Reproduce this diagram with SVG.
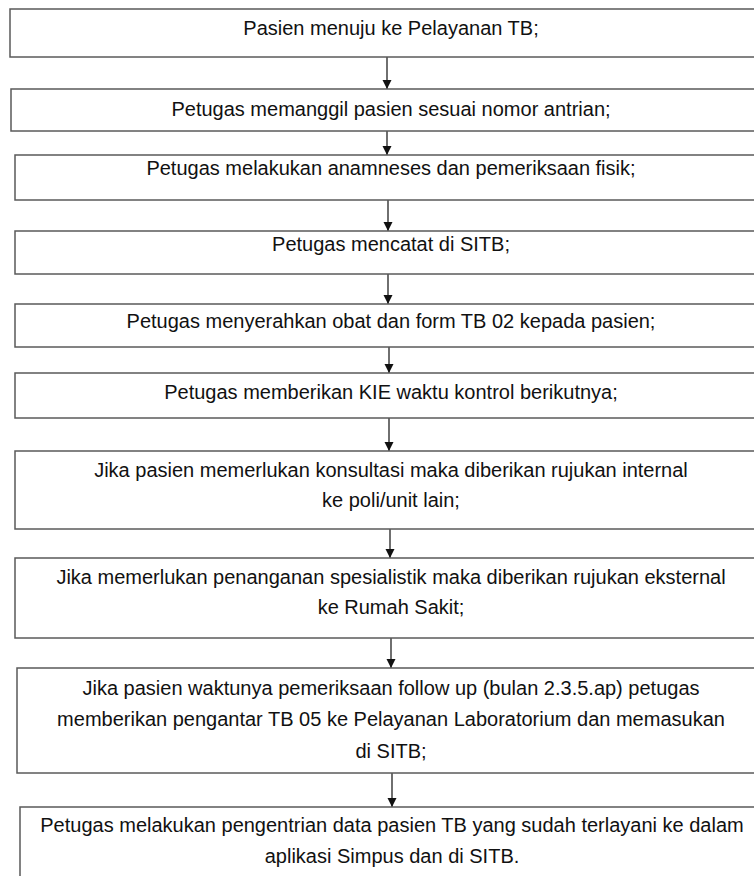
<svg xmlns="http://www.w3.org/2000/svg" width="754" height="876" viewBox="0 0 754 876">
<defs>
<style>
.box{fill:#ffffff;stroke:#5a5a5a;stroke-width:1.5}
.t{font-family:"Liberation Sans",Arial,sans-serif;font-size:20px;fill:#111;text-anchor:middle}
.c{stroke:#222;stroke-width:1.3;fill:none}
</style>
<marker id="ah" markerUnits="userSpaceOnUse" markerWidth="10" markerHeight="10" refX="9" refY="4.5" orient="auto">
<path d="M0,0 L9,4.5 L0,9 Z" fill="#111"/>
</marker>
</defs>
<rect width="754" height="876" fill="#ffffff"/>
<g id="connectors">
<line class="c" x1="387" y1="57" x2="387" y2="89" marker-end="url(#ah)"/>
<line class="c" x1="387" y1="131" x2="387" y2="155" marker-end="url(#ah)"/>
<line class="c" x1="388" y1="200" x2="388" y2="231" marker-end="url(#ah)"/>
<line class="c" x1="388" y1="274" x2="388" y2="304" marker-end="url(#ah)"/>
<line class="c" x1="389" y1="347" x2="389" y2="373" marker-end="url(#ah)"/>
<line class="c" x1="389" y1="418" x2="389" y2="451" marker-end="url(#ah)"/>
<line class="c" x1="390" y1="529" x2="390" y2="558" marker-end="url(#ah)"/>
<line class="c" x1="391" y1="638" x2="391" y2="668" marker-end="url(#ah)"/>
<line class="c" x1="392" y1="773" x2="392" y2="807" marker-end="url(#ah)"/>
</g>
<g id="n1"><rect class="box" x="10" y="9" width="770" height="48"/><text class="t" x="391" y="35">Pasien menuju ke Pelayanan TB;</text></g>
<g id="n2"><rect class="box" x="11" y="89" width="770" height="42"/><text class="t" x="391" y="116">Petugas memanggil pasien sesuai nomor antrian;</text></g>
<g id="n3"><rect class="box" x="15" y="155" width="770" height="45"/><text class="t" x="391" y="175">Petugas melakukan anamneses dan pemeriksaan fisik;</text></g>
<g id="n4"><rect class="box" x="15" y="231" width="770" height="43"/><text class="t" x="391" y="251">Petugas mencatat di SITB;</text></g>
<g id="n5"><rect class="box" x="15" y="304" width="770" height="43"/><text class="t" x="391" y="328">Petugas menyerahkan obat dan form TB 02 kepada pasien;</text></g>
<g id="n6"><rect class="box" x="15" y="373" width="770" height="45"/><text class="t" x="391" y="399">Petugas memberikan KIE waktu kontrol berikutnya;</text></g>
<g id="n7"><rect class="box" x="15" y="451" width="770" height="78"/><text class="t" x="391" y="477">Jika pasien memerlukan konsultasi maka diberikan rujukan internal</text><text class="t" x="391" y="507">ke poli/unit lain;</text></g>
<g id="n8"><rect class="box" x="15" y="558" width="770" height="80"/><text class="t" x="391" y="584">Jika memerlukan penanganan spesialistik maka diberikan rujukan eksternal</text><text class="t" x="391" y="614">ke Rumah Sakit;</text></g>
<g id="n9"><rect class="box" x="17" y="668" width="770" height="105"/><text class="t" x="391" y="695">Jika pasien waktunya pemeriksaan follow up (bulan 2.3.5.ap) petugas</text><text class="t" x="391" y="726">memberikan pengantar TB 05 ke Pelayanan Laboratorium dan memasukan</text><text class="t" x="391" y="758">di SITB;</text></g>
<g id="n10"><rect class="box" x="20" y="807" width="770" height="90"/><text class="t" x="392" y="832">Petugas melakukan pengentrian data pasien TB yang sudah terlayani ke dalam</text><text class="t" x="392" y="863">aplikasi Simpus dan di SITB.</text></g>
</svg>
